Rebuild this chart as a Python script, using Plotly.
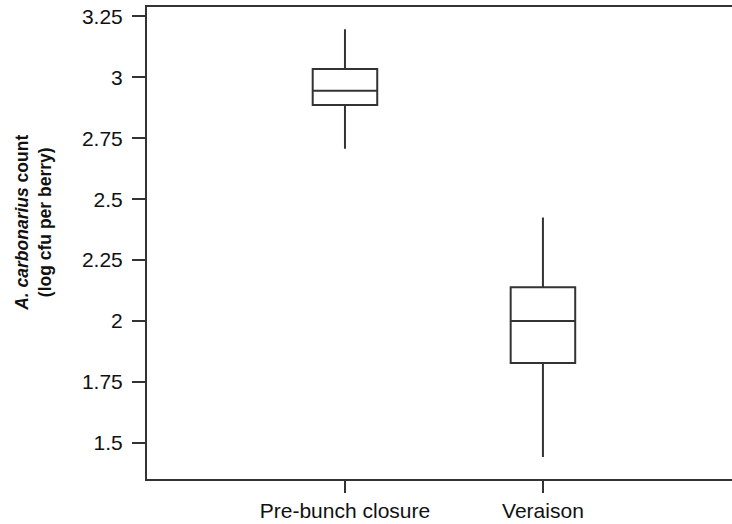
import plotly.graph_objects as go

# Five-number summaries of A. carbonarius counts per sampling stage
categories = ["Pre-bunch closure", "Veraison"]
lower_whisker = [2.707, 1.442]
q1 = [2.886, 1.828]
median = [2.945, 2.000]
q3 = [3.034, 2.139]
upper_whisker = [3.197, 2.425]

y_tick_vals = [1.5, 1.75, 2, 2.25, 2.5, 2.75, 3, 3.25]
y_tick_text = ["1.5", "1.75", "2", "2.25", "2.5", "2.75", "3", "3.25"]

LINE = "#333333"
FONT = "Liberation Sans, Arial, Helvetica, sans-serif"

fig = go.Figure()
for i, cat in enumerate(categories):
    fig.add_trace(go.Box(
        x=[cat],
        q1=[q1[i]],
        median=[median[i]],
        q3=[q3[i]],
        lowerfence=[lower_whisker[i]],
        upperfence=[upper_whisker[i]],
        width=0.326,
        whiskerwidth=0,
        fillcolor="white",
        line=dict(color=LINE, width=2),
        hoverinfo="skip",
        showlegend=False,
    ))

fig.update_layout(
    width=732,
    height=524,
    margin=dict(l=147, r=0, t=7, b=45),
    paper_bgcolor="white",
    plot_bgcolor="white",
    font=dict(family=FONT, size=21, color="#111111"),
    xaxis=dict(
        type="category",
        categoryorder="array",
        categoryarray=categories,
        range=[-1, 1.955],
        showline=True,
        linecolor=LINE,
        linewidth=2,
        mirror=True,
        ticks="outside",
        ticklen=12,
        tickwidth=2,
        tickcolor=LINE,
        showgrid=False,
        zeroline=False,
        tickfont=dict(size=21),
    ),
    yaxis=dict(
        range=[1.352, 3.2885],
        tickvals=y_tick_vals,
        ticktext=y_tick_text,
        showline=True,
        linecolor=LINE,
        linewidth=2,
        ticks="outside",
        ticklen=13,
        tickwidth=2,
        tickcolor=LINE,
        showgrid=False,
        zeroline=False,
        ticklabelstandoff=5,
        tickfont=dict(size=21),
    ),
    annotations=[dict(
        text="<b><i>A. carbonarius</i> count</b><br><b>(log cfu per berry)</b>",
        textangle=-90,
        xref="paper", yref="paper",
        x=-0.193, y=0.543,
        xanchor="center", yanchor="middle",
        showarrow=False,
        font=dict(family=FONT, size=17.5, color="#111111"),
    )],
)

fig.write_html("out.html")
